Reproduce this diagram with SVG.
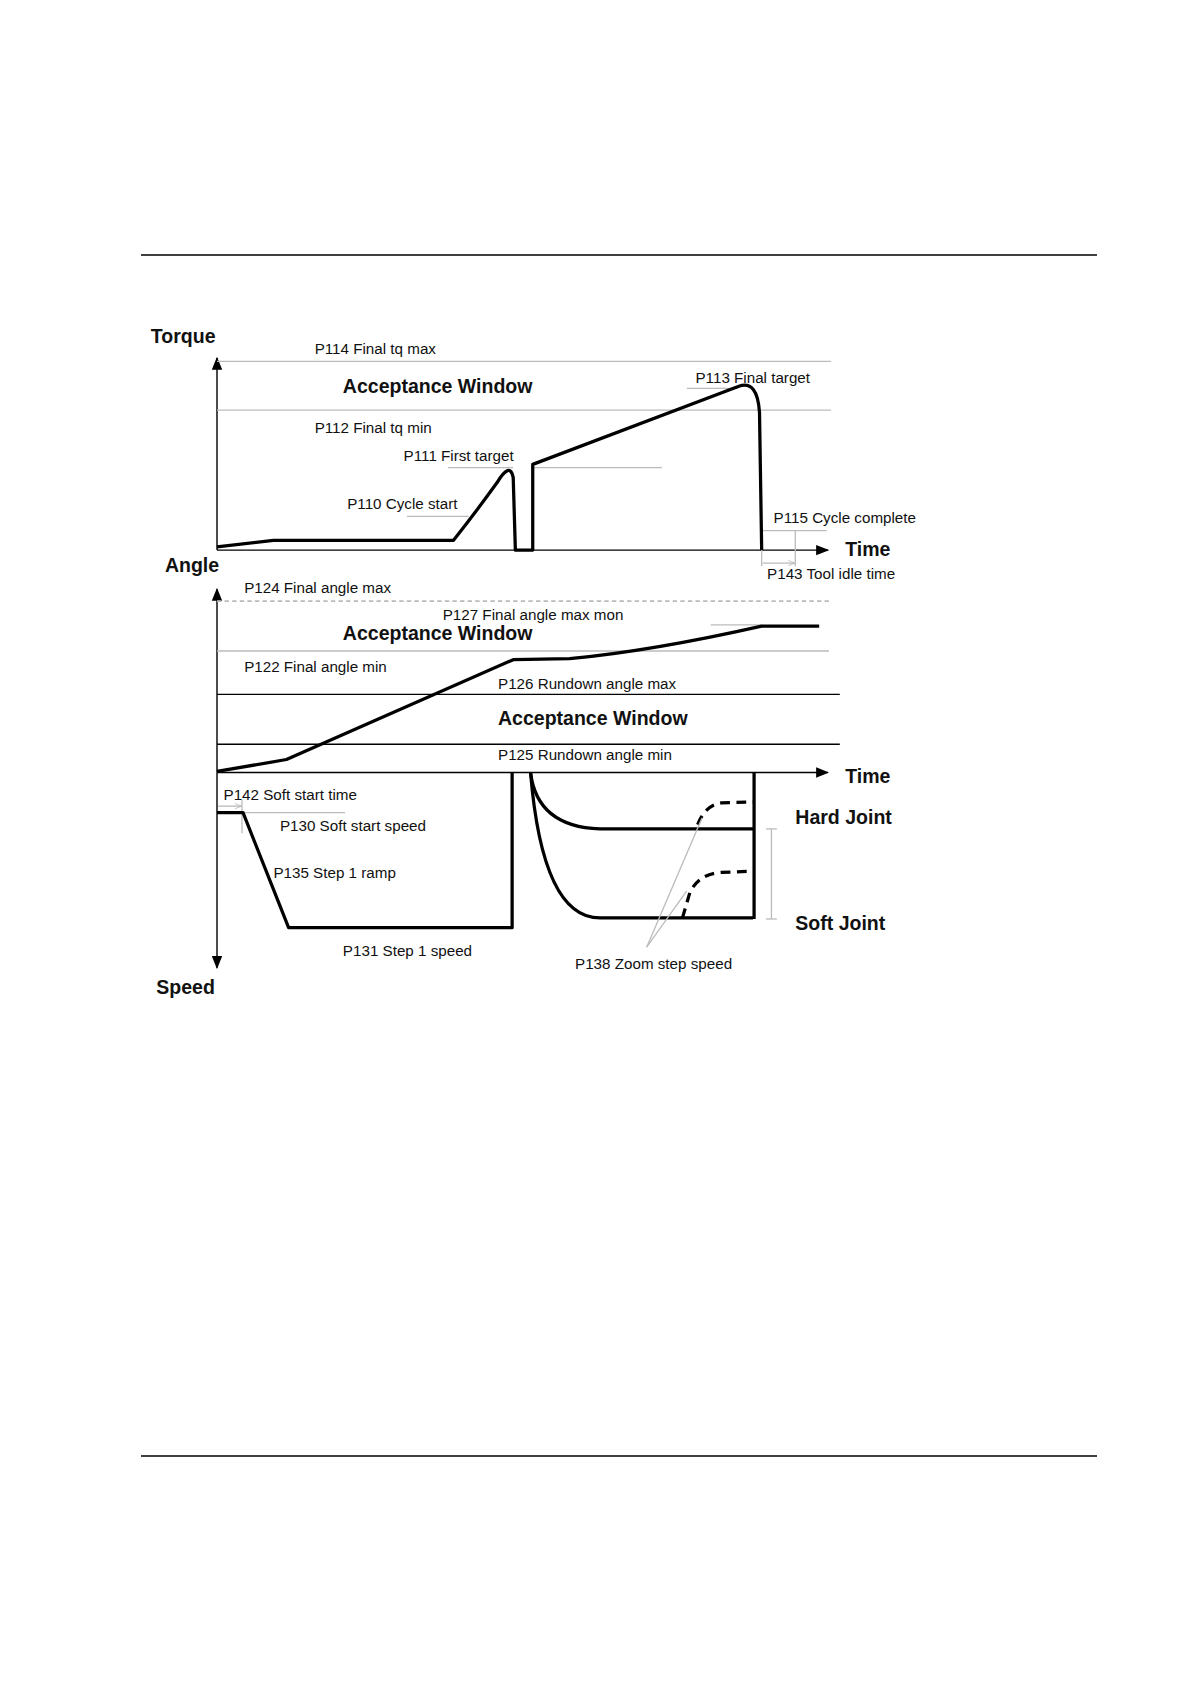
<svg xmlns="http://www.w3.org/2000/svg" width="1191" height="1684" viewBox="0 0 1191 1684">
<style>
.l{font-family:"Liberation Sans",Arial,sans-serif;font-size:14px;fill:#111}
.b{font-family:"Liberation Sans",Arial,sans-serif;font-size:18px;font-weight:bold;fill:#111}
.g{stroke:#bbb;stroke-width:1.2;fill:none}
.k{stroke:#000;stroke-width:1.3;fill:none}
.c{stroke:#000;stroke-width:3;fill:none;stroke-linejoin:round}
</style>
<defs>
<marker id="ah" viewBox="0 0 10 10" refX="9" refY="5" markerWidth="8" markerHeight="8" markerUnits="userSpaceOnUse" orient="auto"><path d="M0,1 L10,5 L0,9 z" fill="#000"/></marker>
<marker id="ahg" viewBox="0 0 10 10" refX="9" refY="5" markerWidth="6" markerHeight="6" markerUnits="userSpaceOnUse" orient="auto"><path d="M0,1 L10,5 L0,9" fill="none" stroke="#aaa"/></marker>
<marker id="ahb" viewBox="0 0 10 10" refX="9" refY="5" markerWidth="12" markerHeight="12" markerUnits="userSpaceOnUse" orient="auto"><path d="M0,1 L10,5 L0,9 z" fill="#000"/></marker>
</defs>
<rect width="1191" height="1684" fill="#fff"/>
<line x1="141" y1="255" x2="1097" y2="255" stroke="#000" stroke-width="1.5"/>
<line x1="141" y1="1456" x2="1097" y2="1456" stroke="#000" stroke-width="1.5"/>
<g transform="scale(1.085)">
<g id="connectors">
<!-- axes -->
<line x1="200" y1="507" x2="200" y2="330" class="k" marker-end="url(#ahb)"/>
<line x1="200" y1="507" x2="763" y2="507" class="k" marker-end="url(#ahb)"/>
<line x1="200" y1="712" x2="200" y2="543" class="k" marker-end="url(#ahb)"/>
<line x1="200" y1="712" x2="763" y2="712" class="k" marker-end="url(#ahb)"/>
<line x1="200" y1="712" x2="200" y2="892" class="k" marker-end="url(#ahb)"/>
<!-- torque limits -->
<line x1="200" y1="333" x2="766" y2="333" class="g"/>
<line x1="200" y1="378" x2="766" y2="378" class="g"/>
<line x1="633" y1="358" x2="680" y2="358" class="g"/>
<line x1="413" y1="431" x2="473" y2="431" class="g"/>
<line x1="491" y1="431" x2="610" y2="431" class="g"/>
<line x1="375" y1="476" x2="432" y2="476" class="g"/>
<line x1="702" y1="489" x2="762" y2="489" class="g"/>
<line x1="733" y1="489" x2="733" y2="522" class="g"/>
<line x1="702" y1="507" x2="702" y2="522" class="g"/>
<line x1="703" y1="519" x2="732" y2="519" class="g" marker-end="url(#ahg)"/>
<!-- torque curve -->
<path class="c" d="M200,504 L252,498 L418,498 Q440,470 458,445 Q470,425 473,440 L475,507 L491,507 L491,428 L681,356 Q698,350 700,380 L702,507"/>
<!-- angle limits -->
<line x1="200" y1="554" x2="764" y2="554" stroke="#bbb" stroke-width="1.5" stroke-dasharray="4,3"/>
<line x1="200" y1="600" x2="764" y2="600" class="g"/>
<line x1="655" y1="576" x2="702" y2="576" class="g"/>
<line x1="200" y1="640" x2="774" y2="640" class="k"/>
<line x1="200" y1="686" x2="774" y2="686" class="k"/>
<path class="c" d="M200,711 L264,700 L473,608 L525,607 Q600,600 702,577 L755,577"/>
<!-- speed -->
<line x1="200" y1="749" x2="318" y2="749" class="g"/>
<line x1="223" y1="737" x2="223" y2="768" class="g"/>
<line x1="201" y1="743" x2="222" y2="743" class="g" marker-end="url(#ahg)"/>
<path class="c" d="M200,749 L224,749 L266,855 L472,855 L472,712"/>
<path class="c" d="M489,712 Q495,762 553,764 L694,764"/>
<path class="c" d="M489,712 Q500,846 553,846 L694,846"/>
<line x1="695" y1="712" x2="695" y2="847" class="c"/>
<path d="M643,760 Q650,742 665,740 L694,739" stroke="#000" stroke-width="3" fill="none" stroke-dasharray="9,6"/>
<path d="M629,846 L636,822 Q645,805 665,804 L694,803" stroke="#000" stroke-width="3" fill="none" stroke-dasharray="9,6"/>
<line x1="711" y1="764" x2="711" y2="847" class="g"/>
<line x1="706" y1="764" x2="716" y2="764" class="g"/>
<line x1="706" y1="847" x2="716" y2="847" class="g"/>
<line x1="596" y1="873" x2="647" y2="754" class="g"/>
<line x1="596" y1="873" x2="633" y2="821" class="g"/>
</g>
<g id="labels">
<text class="b" x="139" y="316">Torque</text>
<text class="b" x="779" y="512">Time</text>
<text class="b" x="316" y="362">Acceptance Window</text>
<text class="l" x="290" y="326">P114 Final tq max</text>
<text class="l" x="290" y="399">P112 Final tq min</text>
<text class="l" x="641" y="353">P113 Final target</text>
<text class="l" x="372" y="425">P111 First target</text>
<text class="l" x="320" y="469">P110 Cycle start</text>
<text class="l" x="713" y="482">P115 Cycle complete</text>
<text class="l" x="707" y="534">P143 Tool idle time</text>
<text class="b" x="152" y="527">Angle</text>
<text class="l" x="225" y="547">P124 Final angle max</text>
<text class="l" x="408" y="571">P127 Final angle max mon</text>
<text class="b" x="316" y="590">Acceptance Window</text>
<text class="l" x="225" y="619">P122 Final angle min</text>
<text class="l" x="459" y="635">P126 Rundown angle max</text>
<text class="b" x="459" y="668">Acceptance Window</text>
<text class="l" x="459" y="700">P125 Rundown angle min</text>
<text class="b" x="779" y="722">Time</text>
<text class="l" x="206" y="737">P142 Soft start time</text>
<text class="l" x="258" y="766">P130 Soft start speed</text>
<text class="l" x="252" y="809">P135 Step 1 ramp</text>
<text class="l" x="316" y="881">P131 Step 1 speed</text>
<text class="l" x="530" y="893">P138 Zoom step speed</text>
<text class="b" x="733" y="759">Hard Joint</text>
<text class="b" x="733" y="857">Soft Joint</text>
<text class="b" x="144" y="916">Speed</text>
</g>
</g>
</svg>
